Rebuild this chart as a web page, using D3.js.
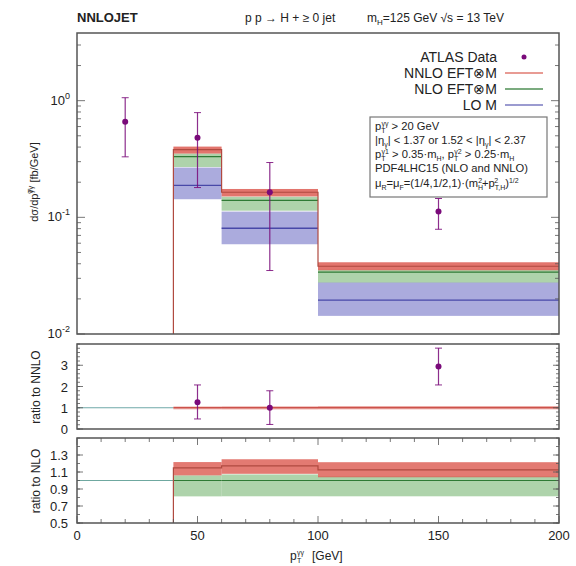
<!DOCTYPE html>
<html><head><meta charset="utf-8">
<script src="https://cdn.jsdelivr.net/npm/d3@7/dist/d3.min.js"></script>
<style>
body{margin:0;background:#fff;}
text{font-family:"Liberation Sans",Arial,Helvetica,sans-serif;fill:#222;}
</style></head><body>
<svg id="c" width="576" height="566"></svg>
<script>
// ---------------- data ----------------
const binEdges = [40, 60, 100, 200];
const nnloCentral = [0.381, 0.164, 0.0381];
const nnloLow     = [0.352, 0.151, 0.0352];
const nnloHigh    = [0.404, 0.175, 0.0412];
const nloCentral  = [0.332, 0.140, 0.0339];
const nloLow      = [0.270, 0.114, 0.0276];
const nloHigh     = [0.352, 0.150, 0.0355];
const loCentral   = [0.188, 0.0805, 0.0195];
const loLow       = [0.143, 0.0588, 0.0143];
const loHigh      = [0.267, 0.112, 0.0278];
const dataX    = [20, 50, 80, 150];
const dataY    = [0.66, 0.48, 0.164, 0.112];
const dataLow  = [0.33, 0.18, 0.035, 0.079];
const dataHigh = [1.06, 0.79, 0.295, 0.145];
const xTicks = [0, 50, 100, 150, 200];
const logTicks = [0.01, 0.1, 1];
const ratioNNLOTicks = [0, 1, 2, 3];
const ratioNLOTicks = [0.5, 0.7, 0.9, 1.1, 1.3];

// ---------------- layout ----------------
const svg = d3.select("#c");
const L = 77, R = 559;
const x = d3.scaleLinear().domain([0, 200]).range([L, R]);
const yTop = d3.scaleLog().domain([0.01, Math.pow(10, 0.58)]).range([334, 33]);
const yMid = d3.scaleLinear().domain([0, 4]).range([429, 344]);
const yBot = d3.scaleLinear().domain([0.5, 1.5]).range([523, 438]);

const C = {
  nnloBand: "#d8473c", nnloLine: "#c0342c", nnloStep: "#b04a40",
  nloBand: "#8cc088", nloLine: "#2f7a35",
  loBand: "#8f8fd2", loLine: "#4848a8",
  data: "#7a0a7a", frame: "#555"
};

function clipFor(id, y) {
  svg.append("clipPath").attr("id", id).append("rect")
    .attr("x", L).attr("y", y.range()[1]).attr("width", R - L).attr("height", y.range()[0] - y.range()[1]);
}
clipFor("cTop", yTop); clipFor("cMid", yMid); clipFor("cBot", yBot);

const bins = d3.range(binEdges.length - 1).map(i => ({x0: binEdges[i], x1: binEdges[i + 1], i}));

function bands(g, y, lo, hi, color, op) {
  g.selectAll(null).data(bins).enter().append("rect")
    .attr("x", d => x(d.x0)).attr("width", d => x(d.x1) - x(d.x0))
    .attr("y", d => y(hi[d.i])).attr("height", d => y(lo[d.i]) - y(hi[d.i]))
    .attr("fill", color).attr("opacity", op);
}
function flatLines(g, y, vals, color, w) {
  g.selectAll(null).data(bins).enter().append("line")
    .attr("x1", d => x(d.x0)).attr("x2", d => x(d.x1))
    .attr("y1", d => y(vals[d.i])).attr("y2", d => y(vals[d.i]))
    .attr("stroke", color).attr("stroke-width", w);
}
function stepLine(g, y, vals, color, w, startBottom) {
  const pts = [];
  if (startBottom) pts.push([x(binEdges[0]), y.range()[0] + 2]);
  bins.forEach(d => { pts.push([x(d.x0), y(vals[d.i])]); pts.push([x(d.x1), y(vals[d.i])]); });
  g.append("path").attr("d", d3.line()(pts)).attr("fill", "none")
    .attr("stroke", color).attr("stroke-width", w);
}
function errPoints(g, y, xs, ys, los, his) {
  xs.forEach((xv, k) => {
    const px = x(xv);
    g.append("line").attr("x1", px).attr("x2", px).attr("y1", y(los[k])).attr("y2", y(his[k]))
      .attr("stroke", C.data).attr("stroke-width", 1.2).attr("opacity", 0.85);
    [los[k], his[k]].forEach(v => g.append("line").attr("x1", px - 3.5).attr("x2", px + 3.5)
      .attr("y1", y(v)).attr("y2", y(v)).attr("stroke", C.data).attr("stroke-width", 1).attr("opacity", 0.85));
    g.append("circle").attr("cx", px).attr("cy", y(ys[k])).attr("r", 3).attr("fill", C.data);
  });
}

// ---------------- top panel ----------------
const gTop = svg.append("g").attr("clip-path", "url(#cTop)");
bands(gTop, yTop, loLow, loHigh, C.loBand, 0.75);
bands(gTop, yTop, nloLow, nloHigh, C.nloBand, 0.7);
bands(gTop, yTop, nnloLow, nnloHigh, C.nnloBand, 0.75);
flatLines(gTop, yTop, loCentral, C.loLine, 1.4);
flatLines(gTop, yTop, nloCentral, C.nloLine, 1.2);
stepLine(gTop, yTop, nnloCentral, C.nnloStep, 1.2, true);
errPoints(svg.append("g"), yTop, dataX, dataY, dataLow, dataHigh);

// ---------------- middle panel (ratio to NNLO) ----------------
const gMid = svg.append("g").attr("clip-path", "url(#cMid)");
const one = bins.map(() => 1);
bands(gMid, yMid, nnloLow.map((v, i) => v / nnloCentral[i]), nnloHigh.map((v, i) => v / nnloCentral[i]), C.nnloBand, 0.45);
gMid.append("line").attr("x1", x(0)).attr("x2", x(binEdges[0])).attr("y1", yMid(1)).attr("y2", yMid(1))
  .attr("stroke", "#6fa8a8").attr("stroke-width", 1);
stepLine(gMid, yMid, one, C.nnloLine, 1.2, false);
const dIdx = dataX.map(v => bins.findIndex(b => v >= b.x0 && v < b.x1));
const keep = dIdx.map((b, k) => b >= 0 ? k : -1).filter(k => k >= 0);
errPoints(svg.append("g"), yMid,
  keep.map(k => dataX[k]),
  keep.map(k => dataY[k] / nnloCentral[dIdx[k]]),
  keep.map(k => dataLow[k] / nnloCentral[dIdx[k]]),
  keep.map(k => dataHigh[k] / nnloCentral[dIdx[k]]));

// ---------------- bottom panel (ratio to NLO) ----------------
const gBot = svg.append("g").attr("clip-path", "url(#cBot)");
bands(gBot, yBot, nloLow.map((v, i) => v / nloCentral[i]), nloHigh.map((v, i) => v / nloCentral[i]), C.nloBand, 0.7);
bands(gBot, yBot, nnloLow.map((v, i) => v / nloCentral[i]), nnloHigh.map((v, i) => v / nloCentral[i]), C.nnloBand, 0.72);
gBot.append("line").attr("x1", x(0)).attr("x2", x(binEdges[0])).attr("y1", yBot(1)).attr("y2", yBot(1))
  .attr("stroke", "#6fa8a0").attr("stroke-width", 1);
flatLines(gBot, yBot, one, C.nloLine, 1.2);
stepLine(gBot, yBot, nnloCentral.map((v, i) => v / nloCentral[i]), C.nnloStep, 1.2, true);

// ---------------- frames and ticks ----------------
function frame(y) {
  svg.append("rect").attr("x", L).attr("y", y.range()[1]).attr("width", R - L)
    .attr("height", y.range()[0] - y.range()[1]).attr("fill", "none")
    .attr("stroke", C.frame).attr("stroke-width", 1.5);
}
function yTicksInward(y, vals, len) {
  vals.forEach(v => {
    const py = y(v);
    svg.append("line").attr("x1", L).attr("x2", L + len).attr("y1", py).attr("y2", py).attr("stroke", C.frame).attr("stroke-width", 0.8);
    svg.append("line").attr("x1", R - len).attr("x2", R).attr("y1", py).attr("y2", py).attr("stroke", C.frame).attr("stroke-width", 0.8);
  });
}
const minorLog = [];
[0.01, 0.1, 1].forEach(d => [2,3,4,5,6,7,8,9].forEach(m => { if (d * m < 3.8) minorLog.push(d * m); }));
yTicksInward(yTop, minorLog, 4);
yTicksInward(yTop, logTicks, 8);
frame(yTop);
yTicksInward(yMid, d3.range(0, 4.01, 0.2), 3);
yTicksInward(yMid, ratioNNLOTicks, 6);
frame(yMid);
yTicksInward(yBot, d3.range(0.5, 1.51, 0.1), 3);
yTicksInward(yBot, ratioNLOTicks, 6);
d3.range(0, 201, 10).forEach(v => {
  const len = v % 50 === 0 ? 7 : 4;
  [[523, -1], [438, 1]].forEach(([yy, s]) => svg.append("line").attr("x1", x(v)).attr("x2", x(v))
    .attr("y1", yy).attr("y2", yy + s * len).attr("stroke", C.frame).attr("stroke-width", 0.8));
});
frame(yBot);

// ---------------- tick labels ----------------
logTicks.forEach(v => {
  const e = Math.round(Math.log10(v));
  const t = svg.append("text").attr("x", 70).attr("y", yTop(v) + 4).attr("text-anchor", "end").attr("font-size", 13);
  t.append("tspan").text("10");
  t.append("tspan").attr("dy", -6).attr("font-size", 9).text(String(e));
});
ratioNNLOTicks.forEach(v => svg.append("text").attr("x", 68).attr("y", yMid(v) + 5)
  .attr("text-anchor", "end").attr("font-size", 13).text(v));
ratioNLOTicks.forEach(v => svg.append("text").attr("x", 68).attr("y", yBot(v) + 5)
  .attr("text-anchor", "end").attr("font-size", 13).text(v.toFixed(1)));
xTicks.forEach(v => svg.append("text").attr("x", x(v)).attr("y", 540)
  .attr("text-anchor", "middle").attr("font-size", 13).text(v));

// ---------------- axis labels ----------------
const yl = svg.append("text").attr("transform", "translate(38,182) rotate(-90)").attr("text-anchor", "middle").attr("font-size", 11);
yl.append("tspan").text("dσ/dp");
yl.append("tspan").attr("dy", -5).attr("font-size", 8).text("T");
yl.append("tspan").attr("dx", -5).attr("font-size", 8).text("γγ");
yl.append("tspan").attr("dy", 5).text(" [fb/GeV]");
svg.append("text").attr("transform", "translate(40,387) rotate(-90)").attr("text-anchor", "middle").attr("font-size", 12).text("ratio to NNLO");
svg.append("text").attr("transform", "translate(40,481) rotate(-90)").attr("text-anchor", "middle").attr("font-size", 12).text("ratio to NLO");
const xlX = 290, xlY = 560;
svg.append("text").attr("x", xlX).attr("y", xlY).attr("font-size", 12).text("p");
svg.append("text").attr("x", xlX + 7).attr("y", xlY - 5).attr("font-size", 7).text("γγ");
svg.append("text").attr("x", xlX + 7).attr("y", xlY + 3).attr("font-size", 7).text("T");
svg.append("text").attr("x", xlX + 22).attr("y", xlY).attr("font-size", 12).text("[GeV]");

// ---------------- title ----------------
svg.append("text").attr("x", 77).attr("y", 22).attr("font-size", 13).attr("font-weight", "bold").text("NNLOJET");
svg.append("text").attr("x", 245).attr("y", 22).attr("font-size", 12).text("p p → H + ≥ 0 jet");
const tt = svg.append("text").attr("x", 367).attr("y", 22).attr("font-size", 12);
tt.append("tspan").text("m");
tt.append("tspan").attr("dy", 3).attr("font-size", 8).text("H");
tt.append("tspan").attr("dy", -3).text("=125 GeV √s  = 13 TeV");

// ---------------- legend ----------------
const legendLabels = ["ATLAS Data", "NNLO EFT⊗M", "NLO EFT⊗M", "LO M"];
const legendLine = [null, "#e07a70", "#4f8f55", "#7a7ac0"];
const legY = [57, 73, 89, 105];
legendLabels.forEach((lab, i) => {
  svg.append("text").attr("x", 497).attr("y", legY[i] + 5).attr("text-anchor", "end").attr("font-size", 14).text(lab);
  if (!legendLine[i]) svg.append("circle").attr("cx", 524).attr("cy", legY[i]).attr("r", 2.5).attr("fill", C.data);
  else svg.append("line").attr("x1", 505).attr("x2", 543).attr("y1", legY[i]).attr("y2", legY[i])
    .attr("stroke", legendLine[i]).attr("stroke-width", 1.5);
});

// ---------------- info box ----------------
svg.append("rect").attr("x", 370).attr("y", 117).attr("width", 177).attr("height", 80)
  .attr("fill", "#fff").attr("stroke", "#777").attr("stroke-width", 1.2);
const fs = 11.2, sub = 7;
function infoLine(y, parts) {
  const t = svg.append("text").attr("x", 375).attr("y", y).attr("font-size", fs);
  parts.forEach(p => {
    const s = t.append("tspan").text(p.t);
    if (p.sup) s.attr("font-size", sub).attr("dy", -4);
    if (p.sub) s.attr("font-size", sub).attr("dy", 2.5);
    if (p.back) s.attr("dy", p.back);
    if (p.dx) s.attr("dx", p.dx);
  });
}
infoLine(130, [{t: "p"}, {t: "T", sub: true}, {t: "γγ", sup: true, dx: -4, back: -6.5}, {t: " > 20 GeV", back: 4}]);
infoLine(144, [{t: "|η"}, {t: "γ", sub: true}, {t: "| < 1.37 or 1.52 < |η", back: -2.5}, {t: "γ", sub: true}, {t: "| < 2.37", back: -2.5}]);
infoLine(158, [{t: "p"}, {t: "T", sub: true}, {t: "γ1", sup: true, dx: -4, back: -6.5}, {t: " > 0.35·m", back: 4}, {t: "H", sub: true}, {t: ", p", back: -2.5},
  {t: "T", sub: true}, {t: "γ2", sup: true, dx: -4, back: -6.5}, {t: " > 0.25·m", back: 4}, {t: "H", sub: true}]);
infoLine(172, [{t: "PDF4LHC15 (NLO and NNLO)"}]);
infoLine(187, [{t: "μ"}, {t: "R", sub: true}, {t: "=μ", back: -2.5}, {t: "F", sub: true}, {t: "=(1/4,1/2,1)·(m", back: -2.5},
  {t: "H", sub: true}, {t: "2", sup: true, dx: -5, back: -6.5}, {t: "+p", back: 4}, {t: "T,H", sub: true}, {t: "2", sup: true, dx: -11, back: -6.5},
  {t: ")", back: 4, dx: 7}, {t: "1/2", sup: true}]);
</script></body></html>
